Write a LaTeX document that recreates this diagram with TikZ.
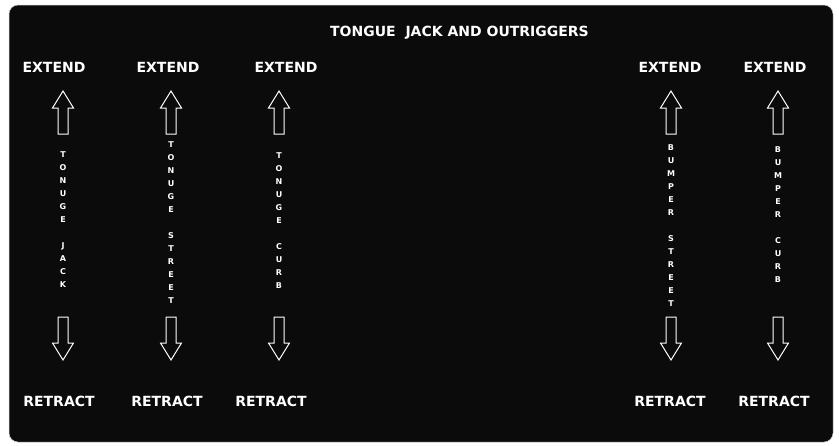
\documentclass[tikz,border=0pt]{standalone}
\usepackage{fontspec}
\setmainfont{DejaVu Sans}
\definecolor{panel}{HTML}{0B0B0B}
\begin{document}
\begin{tikzpicture}[x=1pt,y=-1pt,
  lbl/.style={text=white,inner sep=0pt,font=\fontsize{14}{16}\selectfont\bfseries},
  vlbl/.style={text=white,inner sep=0pt,anchor=north,align=center,
    font=\fontsize{8}{13}\selectfont\bfseries},
  arr/.style={draw=white,line width=1pt,line join=miter}]
\useasboundingbox (0,0) rectangle (839,445);
\fill[white] (0,0) rectangle (839,445);
\filldraw[fill=panel,draw=gray!40,line width=0.5pt,rounded corners=9pt] (9,5) rectangle (833,442);
\node[lbl] (title) at (459.5,33) {TONGUE\ \ JACK AND OUTRIGGERS};
% extend labels
\node[lbl] (e1) at (54,67.5) {EXTEND};
\node[lbl] (e2) at (168,67.5) {EXTEND};
\node[lbl] (e3) at (286,67.5) {EXTEND};
\node[lbl] (e4) at (670,67.5) {EXTEND};
\node[lbl] (e5) at (775,67.5) {EXTEND};
% retract labels
\node[lbl] (r1) at (59,401.5) {RETRACT};
\node[lbl] (r2) at (167,401.5) {RETRACT};
\node[lbl] (r3) at (271,401.5) {RETRACT};
\node[lbl] (r4) at (670,401.5) {RETRACT};
\node[lbl] (r5) at (774,401.5) {RETRACT};
% arrows
\foreach \cx in {63,171,279,671,778}{
  \draw[arr] (\cx,91) -- (\cx+10.5,108) -- (\cx+5,108) -- (\cx+5,134) -- (\cx-5,134) -- (\cx-5,108) -- (\cx-10.5,108) -- cycle;
  \draw[arr] (\cx,360) -- (\cx+10.5,343) -- (\cx+5,343) -- (\cx+5,317) -- (\cx-5,317) -- (\cx-5,343) -- (\cx-10.5,343) -- cycle;
}
% vertical labels
\node[vlbl] (v1) at (63,151) {T\\O\\N\\U\\G\\E\\[13pt]J\\A\\C\\K};
\node[vlbl] (v2) at (171,141) {T\\O\\N\\U\\G\\E\\[13pt]S\\T\\R\\E\\E\\T};
\node[vlbl] (v3) at (279,152) {T\\O\\N\\U\\G\\E\\[13pt]C\\U\\R\\B};
\node[vlbl] (v4) at (671,144) {B\\U\\M\\P\\E\\R\\[13pt]S\\T\\R\\E\\E\\T};
\node[vlbl] (v5) at (778,146) {B\\U\\M\\P\\E\\R\\[13pt]C\\U\\R\\B};
\end{tikzpicture}
\end{document}
